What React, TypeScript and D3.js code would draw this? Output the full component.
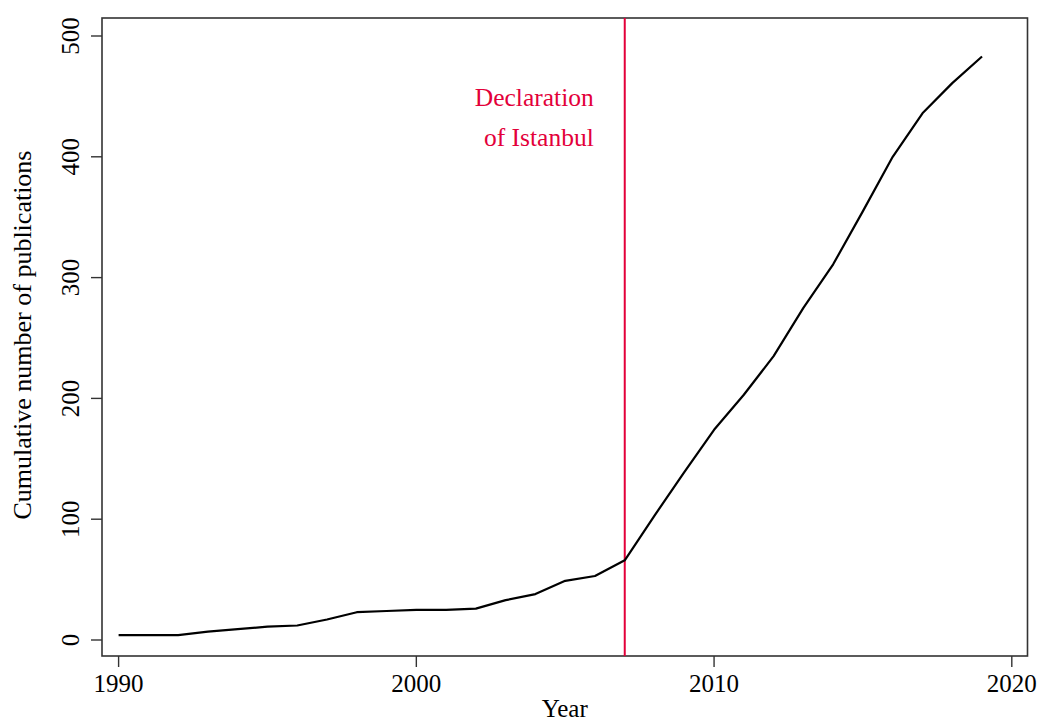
import * as d3 from "d3";
import { useRef, useEffect } from "react";

// cumulative publications per year
const years = [
  1990, 1991, 1992, 1993, 1994, 1995, 1996, 1997, 1998, 1999, 2000, 2001,
  2002, 2003, 2004, 2005, 2006, 2007, 2008, 2009, 2010, 2011, 2012, 2013,
  2014, 2015, 2016, 2017, 2018, 2019,
];
const publications = [
  4, 4, 4, 7, 9, 11, 12, 17, 23, 24, 25, 25, 26, 33, 38, 49, 53, 66, 103, 139,
  174, 203, 235, 275, 311, 355, 400, 436, 461, 483,
];
const xTicks = [1990, 2000, 2010, 2020];
const yTicks = [0, 100, 200, 300, 400, 500];
const declarationYear = 2007;
const annotationLines = ["Declaration", "of Istanbul"];

const App = () => {
  const container = useRef<SVGSVGElement | null>(null);

  useEffect(() => {
    draw();
  });

  const draw = () => {
    const font = "'Liberation Serif', 'Times New Roman', serif";
    const red = "#e3003a";
    const frame = { l: 102, r: 1027.5, t: 18, b: 656 };

    const data = years.map((y, i) => ({ year: y, val: publications[i] }));

    const xScale = d3.scaleLinear().domain([1990, 2020]).range([118.6, 1011.8]);
    const yScale = d3.scaleLinear().domain([0, 500]).range([640, 36]);

    const svg = d3.select(container.current);

    // plot frame
    svg
      .selectAll(".frame")
      .data([0])
      .join("rect")
      .attr("class", "frame")
      .attr("x", frame.l)
      .attr("y", frame.t)
      .attr("width", frame.r - frame.l)
      .attr("height", frame.b - frame.t)
      .attr("fill", "none")
      .attr("stroke", "#333")
      .attr("stroke-width", 1.6);

    // x axis ticks + labels
    svg
      .selectAll(".xtick")
      .data(xTicks)
      .join("line")
      .attr("class", "xtick")
      .attr("x1", (d) => xScale(d))
      .attr("x2", (d) => xScale(d))
      .attr("y1", frame.b)
      .attr("y2", frame.b + 11)
      .attr("stroke", "#333")
      .attr("stroke-width", 1.4);

    svg
      .selectAll(".xlabel")
      .data(xTicks)
      .join("text")
      .attr("class", "xlabel")
      .attr("x", (d) => xScale(d))
      .attr("y", 692)
      .attr("text-anchor", "middle")
      .style("font-family", font)
      .style("font-size", "25px")
      .text((d) => d);

    // y axis ticks + rotated labels
    svg
      .selectAll(".ytick")
      .data(yTicks)
      .join("line")
      .attr("class", "ytick")
      .attr("x1", frame.l)
      .attr("x2", frame.l - 11)
      .attr("y1", (d) => yScale(d))
      .attr("y2", (d) => yScale(d))
      .attr("stroke", "#333")
      .attr("stroke-width", 1.4);

    svg
      .selectAll(".ylabel")
      .data(yTicks)
      .join("text")
      .attr("class", "ylabel")
      .attr("transform", (d) => `translate(79,${yScale(d)}) rotate(-90)`)
      .attr("text-anchor", "middle")
      .style("font-family", font)
      .style("font-size", "25px")
      .text((d) => d);

    // axis titles
    svg
      .selectAll(".ytitle")
      .data([0])
      .join("text")
      .attr("class", "ytitle")
      .attr("transform", "translate(31,335) rotate(-90)")
      .attr("text-anchor", "middle")
      .style("font-family", font)
      .style("font-size", "26px")
      .text("Cumulative number of publications");

    svg
      .selectAll(".xtitle")
      .data([0])
      .join("text")
      .attr("class", "xtitle")
      .attr("x", (frame.l + frame.r) / 2)
      .attr("y", 717)
      .attr("text-anchor", "middle")
      .style("font-family", font)
      .style("font-size", "25px")
      .text("Year");

    // declaration marker
    svg
      .selectAll(".decl-line")
      .data([declarationYear])
      .join("line")
      .attr("class", "decl-line")
      .attr("x1", (d) => xScale(d))
      .attr("x2", (d) => xScale(d))
      .attr("y1", frame.t)
      .attr("y2", frame.b)
      .attr("stroke", red)
      .attr("stroke-width", 2);

    svg
      .selectAll(".decl-text")
      .data(annotationLines)
      .join("text")
      .attr("class", "decl-text")
      .attr("x", xScale(declarationYear) - 31)
      .attr("y", (d, i) => 106 + i * 40)
      .attr("text-anchor", "end")
      .attr("fill", red)
      .style("font-family", font)
      .style("font-size", "25.5px")
      .text((d) => d);

    // cumulative line
    svg
      .selectAll(".pub-line")
      .data([data])
      .join("path")
      .attr("class", "pub-line")
      .attr("fill", "none")
      .attr("stroke", "black")
      .attr("stroke-width", 2.2)
      .attr("stroke-linejoin", "round")
      .attr(
        "d",
        d3
          .line<{ year: number; val: number }>()
          .x((d) => xScale(d.year))
          .y((d) => yScale(d.val))
      );
  };

  return (
    <svg
      ref={container}
      width={1040}
      height={722}
      style={{ position: "absolute", left: 0, top: 0, background: "white" }}
    ></svg>
  );
};

export default App;
